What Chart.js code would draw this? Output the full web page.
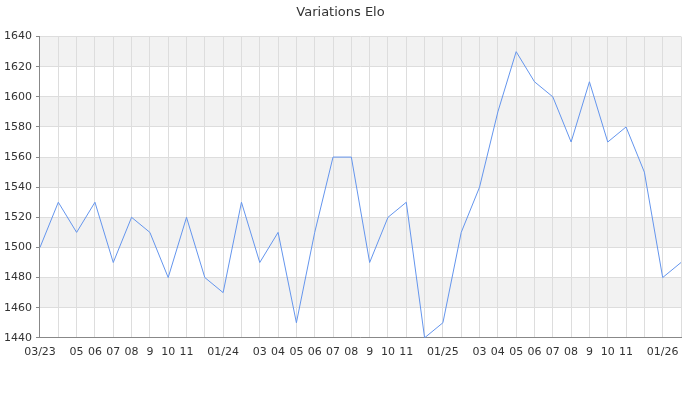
<!DOCTYPE html>
<html>
<head>
<meta charset="utf-8">
<script src="https://cdn.jsdelivr.net/npm/chart.js@4"></script>
<style>
  html, body { margin: 0; padding: 0; background: #fff; }
  #wrap { width: 700px; height: 400px; }
</style>
</head>
<body>
<div id="wrap"><canvas id="chartElo"></canvas></div>
<script>
'use strict';

// Mois (03/23 -> 02/26) et labels affichés sur l'axe
const MOIS = ['2023-03','2023-04','2023-05','2023-06','2023-07','2023-08','2023-09','2023-10','2023-11','2023-12',
              '2024-01','2024-02','2024-03','2024-04','2024-05','2024-06','2024-07','2024-08','2024-09','2024-10','2024-11','2024-12',
              '2025-01','2025-02','2025-03','2025-04','2025-05','2025-06','2025-07','2025-08','2025-09','2025-10','2025-11','2025-12',
              '2026-01','2026-02'];
const LABELS = ['03/23','','05','06','07','08','9','10','11','',
                '01/24','','03','04','05','06','07','08','9','10','11','',
                '01/25','','03','04','05','06','07','08','9','10','11','',
                '01/26',''];
const ELO = [1500,1530,1510,1530,1490,1520,1510,1480,1520,1480,
             1470,1530,1490,1510,1450,1510,1560,1560,1490,1520,1530,1440,
             1450,1510,1540,1590,1630,1610,1600,1570,1610,1570,1580,1550,
             1480,1490];

const Y_MIN = 1440, Y_MAX = 1640, Y_STEP = 20;
const TEXT = '#333';
const GRID = '#dddddd';
const BAND = '#f2f2f2';
const AXIS = '#888';

Chart.defaults.font.family = "'DejaVu Sans', sans-serif";
Chart.defaults.color = TEXT;

// Bandes alternées derrière la courbe
const bandes = {
  id: 'bandes',
  beforeDraw(chart) {
    const { ctx, chartArea: a, scales: { y } } = chart;
    ctx.save();
    ctx.fillStyle = BAND;
    for (let v = Y_MAX; v > Y_MIN; v -= 2 * Y_STEP) {
      const top = y.getPixelForValue(v);
      const bot = y.getPixelForValue(v - Y_STEP);
      ctx.fillRect(a.left, top, a.right - a.left, bot - top);
    }
    ctx.restore();
  }
};

new Chart(document.getElementById('chartElo'), {
  type: 'line',
  data: {
    labels: MOIS,
    datasets: [{
      label: 'Elo',
      data: ELO,
      borderColor: '#6495ed',
      borderWidth: 1,
      pointRadius: 0,
      tension: 0,
      fill: false,
    }],
  },
  options: {
    responsive: true, maintainAspectRatio: false, animation: false,
    layout: { padding: { left: 0, right: 19, top: 0, bottom: 33 } },
    plugins: {
      legend: { display: false },
      tooltip: { enabled: false },
      title: {
        display: true, text: 'Variations Elo', color: TEXT,
        font: { size: 13, weight: 'normal' },
        padding: { top: 5, bottom: 16 },
      },
    },
    scales: {
      x: {
        offset: false,
        border: { color: AXIS },
        grid: { color: GRID, drawTicks: false },
        ticks: {
          autoSkip: false, maxRotation: 0, padding: 8,
          font: { size: 11 }, color: TEXT,
          callback: (v, i) => LABELS[i],
        },
      },
      y: {
        min: Y_MIN, max: Y_MAX,
        border: { color: AXIS },
        grid: {
          color: c => (c.tick && c.tick.value % Y_STEP === 0) ? GRID : 'rgba(0,0,0,0)',
          tickColor: AXIS, tickLength: 4,
        },
        ticks: {
          stepSize: Y_STEP / 2, padding: 4,
          font: { size: 11 }, color: TEXT,
          callback: v => v % Y_STEP === 0 ? v : '',
        },
      },
    },
  },
  plugins: [bandes],
});
</script>
</body>
</html>
